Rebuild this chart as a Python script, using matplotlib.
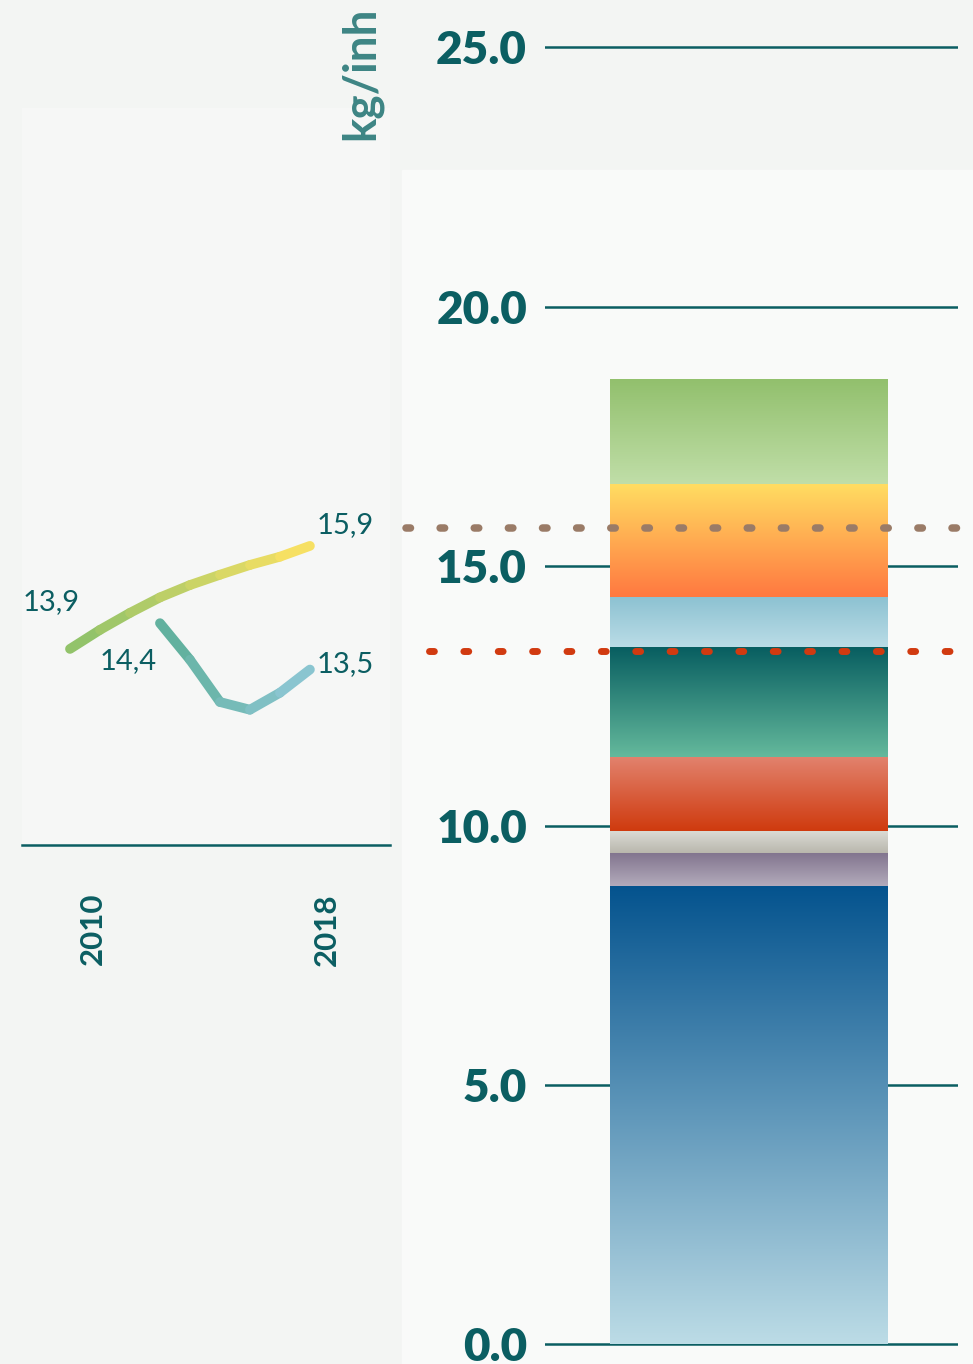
import numpy as np
import matplotlib
matplotlib.use("Agg")
import matplotlib.pyplot as plt
from matplotlib.collections import LineCollection
from matplotlib.colors import LinearSegmentedColormap
from matplotlib.patches import Rectangle

# trend lines (kg/inh)
years_a = [2010, 2011, 2012, 2013, 2014, 2015, 2016, 2017, 2018]
vals_a  = [13.9, 14.27, 14.6, 14.9, 15.14, 15.34, 15.53, 15.69, 15.9]
years_b = [2013, 2014, 2015, 2016, 2017, 2018]
vals_b  = [14.4, 13.69, 12.87, 12.72, 13.05, 13.5]

# stacked bar, bottom to top
seg_vals = [8.84, 0.63, 0.43, 1.42, 2.13, 0.96, 2.18, 2.02]
seg_cols = [("#bcdce6", "#04538e"),   # (bottom colour, top colour)
            ("#b3abbb", "#82758f"),
            ("#b9b7ad", "#dcdcd6"),
            ("#cf3a0e", "#e2826d"),
            ("#64b99c", "#075d60"),
            ("#badce6", "#8dc2d2"),
            ("#ff7840", "#ffde62"),
            ("#c0dea8", "#92c06d")]
ref_brown = 15.74
ref_red   = 13.37
yticks = [0.0, 5.0, 10.0, 15.0, 20.0, 25.0]

TEAL = "#0b5e62"
W, H = 973, 1364
fig = plt.figure(figsize=(W / 100, H / 100), dpi=100, facecolor="#f3f5f3")

# lighter panel behind the bar
fig.patches.append(Rectangle((402 / W, 0), 1 - 402 / W, 1 - 170 / H,
                             transform=fig.transFigure, color="#f9faf9", zorder=-1))

# ---- right: stacked bar ----
ax = fig.add_axes([545 / W, 0, 413 / W, (H - 20) / H])
ax.set_facecolor("none")
for s in ax.spines.values():
    s.set_visible(False)
ax.set_xticks([])
ax.set_yticks(yticks)
ax.set_yticklabels(["%.1f" % t for t in yticks], fontfamily="Lato",
                   fontweight="heavy", fontsize=33, color=TEAL)
ax.tick_params(axis="y", length=0, pad=13)
ax.yaxis.grid(True, color=TEAL, lw=1.8)
ax.set_axisbelow(True)

bottoms = np.concatenate([[0], np.cumsum(seg_vals)[:-1]])
bars = ax.bar(0, seg_vals, bottom=bottoms, width=1, color="none", lw=0)
grad = np.linspace(0, 1, 256).reshape(-1, 1)
for rect, (c0, c1) in zip(bars, seg_cols):
    cmap = LinearSegmentedColormap.from_list("g", [c0, c1])
    x0, y0 = rect.get_x(), rect.get_y()
    ax.imshow(grad, cmap=cmap, origin="lower", aspect="auto",
              extent=[x0, x0 + rect.get_width(), y0, y0 + rect.get_height()],
              zorder=1)
ax.set_xlim(-0.7347, 0.756)
ax.set_ylim(-0.376, 25.53)

ax.axhline(ref_brown, xmin=-0.337, xmax=1.04, color="#9a7b67", lw=5.4,
           ls=(0, (0.6, 3.95)), dash_capstyle="round", clip_on=False, zorder=3)
ax.axhline(ref_red, xmin=-0.28, xmax=1.04, color="#d13a10", lw=5.0,
           ls=(0, (0.7, 4.25)), dash_capstyle="round", clip_on=False, zorder=3)

fig.text(361 / W, 1 - 73 / H, "kg/inh", rotation=90, ha="center", va="center",
         fontfamily="Lato", fontweight="bold", fontsize=33, color="#3d8584")

# ---- left: trend lines ----
lx = fig.add_axes([22 / W, 1 - 845 / H, 368 / W, 737 / H])
lx.set_facecolor("#f6f7f6")
lx.set_xlim(2008.4, 2020.67)
lx.set_ylim(10.094, 24.40)
for k in ["top", "right", "left"]:
    lx.spines[k].set_visible(False)
lx.spines["bottom"].set_color(TEAL)
lx.spines["bottom"].set_linewidth(1.8)
lx.set_xticks([])
lx.set_yticks([])

def grad_line(xs, ys, c0, c1):
    cmap = LinearSegmentedColormap.from_list("l", [c0, c1])
    pts = np.column_stack([xs, ys])
    segs = np.stack([pts[:-1], pts[1:]], axis=1)
    t = (np.asarray(xs[:-1]) - xs[0]) / (xs[-1] - xs[0])
    lc = LineCollection(segs, colors=cmap(t + 0.5 / (len(xs) - 1)), linewidths=7,
                        capstyle="round", joinstyle="round")
    lx.add_collection(lc)

grad_line(years_a, vals_a, "#8bc16a", "#fde263")
grad_line(years_b, vals_b, "#5dae99", "#8fc8d6")

lab = dict(fontfamily="Lato", fontsize=21, color=TEAL, textcoords="offset pixels")
lx.annotate("13,9", (years_a[0], vals_a[0]), xytext=(-19, 47), ha="center", va="center", **lab)
lx.annotate("15,9", (years_a[-1], vals_a[-1]), xytext=(7, 21), ha="left", va="center", **lab)
lx.annotate("14,4", (years_b[0], vals_b[0]), xytext=(-3, -38), ha="right", va="center", **lab)
lx.annotate("13,5", (years_b[-1], vals_b[-1]), xytext=(7, 5), ha="left", va="center", **lab)

for yr, off in [(2010, 0.77), (2018, 0.58)]:
    lx.text(yr + off, -0.065, str(yr), transform=lx.get_xaxis_transform(),
            rotation=90, ha="center", va="top", fontfamily="Lato",
            fontweight="bold", fontsize=22.5, color=TEAL)

fig.savefig("out.png", dpi=100, facecolor=fig.get_facecolor())
